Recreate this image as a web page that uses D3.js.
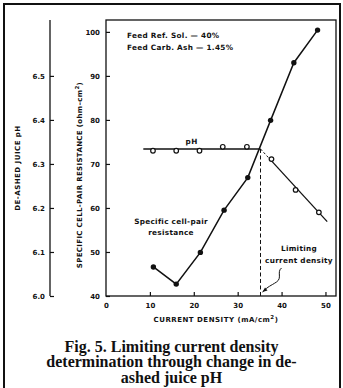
<!DOCTYPE html>
<html>
<head>
<meta charset="utf-8">
<script src="https://cdn.jsdelivr.net/npm/d3@7"></script>
<style>
  body { margin: 0; background: #fff; }
  text { font-family: "DejaVu Sans", sans-serif; fill: #111; }
  .lbl { font-weight: bold; font-size: 7px; }
  .note { font-weight: bold; font-size: 7.3px; letter-spacing: 0.3px; }
  .cap { font-family: "Liberation Serif", serif; font-weight: bold; font-size: 16px; }
</style>
</head>
<body>
<script>
// resistance (filled dots)
var resX = [10.8, 16.0, 21.5, 26.9, 32.3, 37.5, 42.8, 48.2];
var resY = [46.6, 42.7, 49.9, 59.5, 66.9, 79.9, 93.0, 100.4];
// de-ashed juice pH (open dots)
var phX = [10.7, 16.0, 21.3, 26.6, 32.1, 37.7, 43.2, 48.5];
var phY = [6.330, 6.330, 6.330, 6.339, 6.339, 6.311, 6.241, 6.190];
// hand drawn pH lines
var phFlat = [[8.5, 6.334], [35.2, 6.334]];
var phDrop = [[37.6, 6.308], [50.4, 6.169]];
var phDropDash = [[35.2, 6.334], [37.6, 6.308]];
var limitCD = 35.2;

var xTicks = [0, 10, 20, 30, 40, 50];
var yTicks = [40, 50, 60, 70, 80, 90, 100];
var phTicks = [6.0, 6.1, 6.2, 6.3, 6.4, 6.5];

var W = 343, H = 388;
var svg = d3.select("body").append("svg").attr("width", W).attr("height", H);

// outer frame
svg.append("rect").attr("x", 4).attr("y", 4).attr("width", 336).attr("height", 400)
  .attr("fill", "none").attr("stroke", "#111").attr("stroke-width", 2);

var x = d3.scaleLinear().domain([0, 52.4]).range([106, 336]);
var y = d3.scaleLinear().domain([40, 102.7]).range([296, 20]);
var yp = d3.scaleLinear().domain([6.0, 6.627]).range([296, 20]);

// plot box
svg.append("rect").attr("x", 106).attr("y", 20).attr("width", 230).attr("height", 276)
  .attr("fill", "none").attr("stroke", "#111").attr("stroke-width", 1.3);

// left resistance axis (ticks inward)
var gy = svg.append("g").attr("transform", "translate(106,0)")
  .call(d3.axisRight(y).tickValues(yTicks).tickSize(4).tickFormat(d3.format("d")));
gy.select(".domain").remove();
gy.selectAll("line").attr("stroke", "#111").attr("stroke-width", 1.2);
gy.selectAll("text").attr("x", -6).attr("text-anchor", "end").attr("class", "lbl");

// bottom axis (ticks inward)
var gx = svg.append("g").attr("transform", "translate(0,296)")
  .call(d3.axisTop(x).tickValues(xTicks).tickSize(4).tickFormat(d3.format("d")));
gx.select(".domain").remove();
gx.selectAll("line").attr("stroke", "#111").attr("stroke-width", 1.2);
gx.selectAll("line").filter(function(d) { return d === 0; }).remove();
gx.selectAll("text").attr("y", 10).attr("dy", "0.35em").attr("class", "lbl");

// pH axis
var gp = svg.append("g").attr("transform", "translate(50,0)")
  .call(d3.axisRight(yp).tickValues(phTicks).tickSize(4).tickFormat(d3.format(".1f")));
gp.select(".domain").attr("d", "M0," + yp.range()[1] + "V" + yp.range()[0]).attr("stroke", "#111").attr("stroke-width", 1.3);
gp.selectAll("line").attr("stroke", "#111").attr("stroke-width", 1.2);
gp.selectAll("text").attr("x", -5).attr("text-anchor", "end").attr("class", "lbl");

// axis titles
svg.append("text").attr("class", "lbl").attr("x", 216).attr("y", 320).attr("dy", "0.35em")
  .attr("text-anchor", "middle").style("letter-spacing", "0.5px")
  .html('CURRENT DENSITY (mA/cm<tspan dy="-3" font-size="5.5">2</tspan><tspan dy="3">)</tspan>');
svg.append("text").attr("class", "lbl").attr("transform", "translate(80,175) rotate(-90)")
  .attr("dy", "0.35em").attr("text-anchor", "middle").style("letter-spacing", "0.35px")
  .html('SPECIFIC CELL-PAIR RESISTANCE (ohm\u2013cm<tspan dy="-3" font-size="5.5">2</tspan><tspan dy="3">)</tspan>');
svg.append("text").attr("class", "lbl").attr("transform", "translate(18,168) rotate(-90)")
  .attr("dy", "0.35em").attr("text-anchor", "middle").style("letter-spacing", "0.5px")
  .text("DE-ASHED JUICE pH");

// limiting current density dashed line
svg.append("line").attr("x1", x(limitCD)).attr("x2", x(limitCD))
  .attr("y1", yp(phFlat[1][1])).attr("y2", 296)
  .attr("stroke", "#111").attr("stroke-width", 1).attr("stroke-dasharray", "4,2.5");

var line = d3.line().x(function(d) { return x(d[0]); }).y(function(d) { return yp(d[1]); });
svg.append("path").attr("d", line(phFlat)).attr("fill", "none").attr("stroke", "#111").attr("stroke-width", 1.3);
svg.append("path").attr("d", line(phDrop)).attr("fill", "none").attr("stroke", "#111").attr("stroke-width", 1.3);
svg.append("path").attr("d", line(phDropDash)).attr("fill", "none").attr("stroke", "#111")
  .attr("stroke-width", 1).attr("stroke-dasharray", "2.5,2");

// resistance curve
var resData = resX.map(function(v, i) { return [v, resY[i]]; });
svg.append("path")
  .attr("d", d3.line().x(function(d) { return x(d[0]); }).y(function(d) { return y(d[1]); })(resData))
  .attr("fill", "none").attr("stroke", "#111").attr("stroke-width", 1.5);
svg.selectAll(".rdot").data(resData).enter().append("circle")
  .attr("cx", function(d) { return x(d[0]); }).attr("cy", function(d) { return y(d[1]); })
  .attr("r", 2.7).attr("fill", "#111");

// pH points
var phData = phX.map(function(v, i) { return [v, phY[i]]; });
svg.selectAll(".pdot").data(phData).enter().append("circle")
  .attr("cx", function(d) { return x(d[0]); }).attr("cy", function(d) { return yp(d[1]); })
  .attr("r", 2.3).attr("fill", "#fff").attr("stroke", "#111").attr("stroke-width", 1.2);

// annotations
svg.append("text").attr("class", "note").attr("x", 127).attr("y", 38).text("Feed Ref. Sol. \u2014 40%");
svg.append("text").attr("class", "note").attr("x", 127).attr("y", 50).text("Feed Carb. Ash \u2014 1.45%");
svg.append("text").attr("class", "note").attr("x", x(19.5)).attr("y", 144).attr("text-anchor", "middle").text("pH");
svg.append("text").attr("class", "note").attr("x", 171).attr("y", 224).attr("text-anchor", "middle").text("Specific cell-pair");
svg.append("text").attr("class", "note").attr("x", 171).attr("y", 235).attr("text-anchor", "middle").text("resistance");
svg.append("text").attr("class", "note").attr("x", 299).attr("y", 251).attr("text-anchor", "middle").text("Limiting");
svg.append("text").attr("class", "note").attr("x", 299).attr("y", 263).attr("text-anchor", "middle").text("current density");

// squiggle arrow toward the limiting current density
var tipX = x(limitCD) + 2, tipY = 292;
svg.append("path")
  .attr("d", "M" + (tipX + 19) + ",268 C" + (tipX + 14) + ",272 " + (tipX + 20) + ",278 " + (tipX + 14) + ",282 S" + (tipX + 6) + ",286 " + tipX + "," + tipY)
  .attr("fill", "none").attr("stroke", "#111").attr("stroke-width", 1);
svg.append("path")
  .attr("d", "M" + tipX + "," + tipY + "l5,-1.5 l-2.5,-3 z").attr("fill", "#111");

// caption
var cap = ["Fig. 5. Limiting current density", "determination through change in de-", "ashed juice pH"];
svg.selectAll(".capl").data(cap).enter().append("text").attr("class", "cap")
  .attr("x", 171.5).attr("y", function(d, i) { return 352 + i * 15.3; })
  .attr("text-anchor", "middle").text(function(d) { return d; });
</script>
</body>
</html>
